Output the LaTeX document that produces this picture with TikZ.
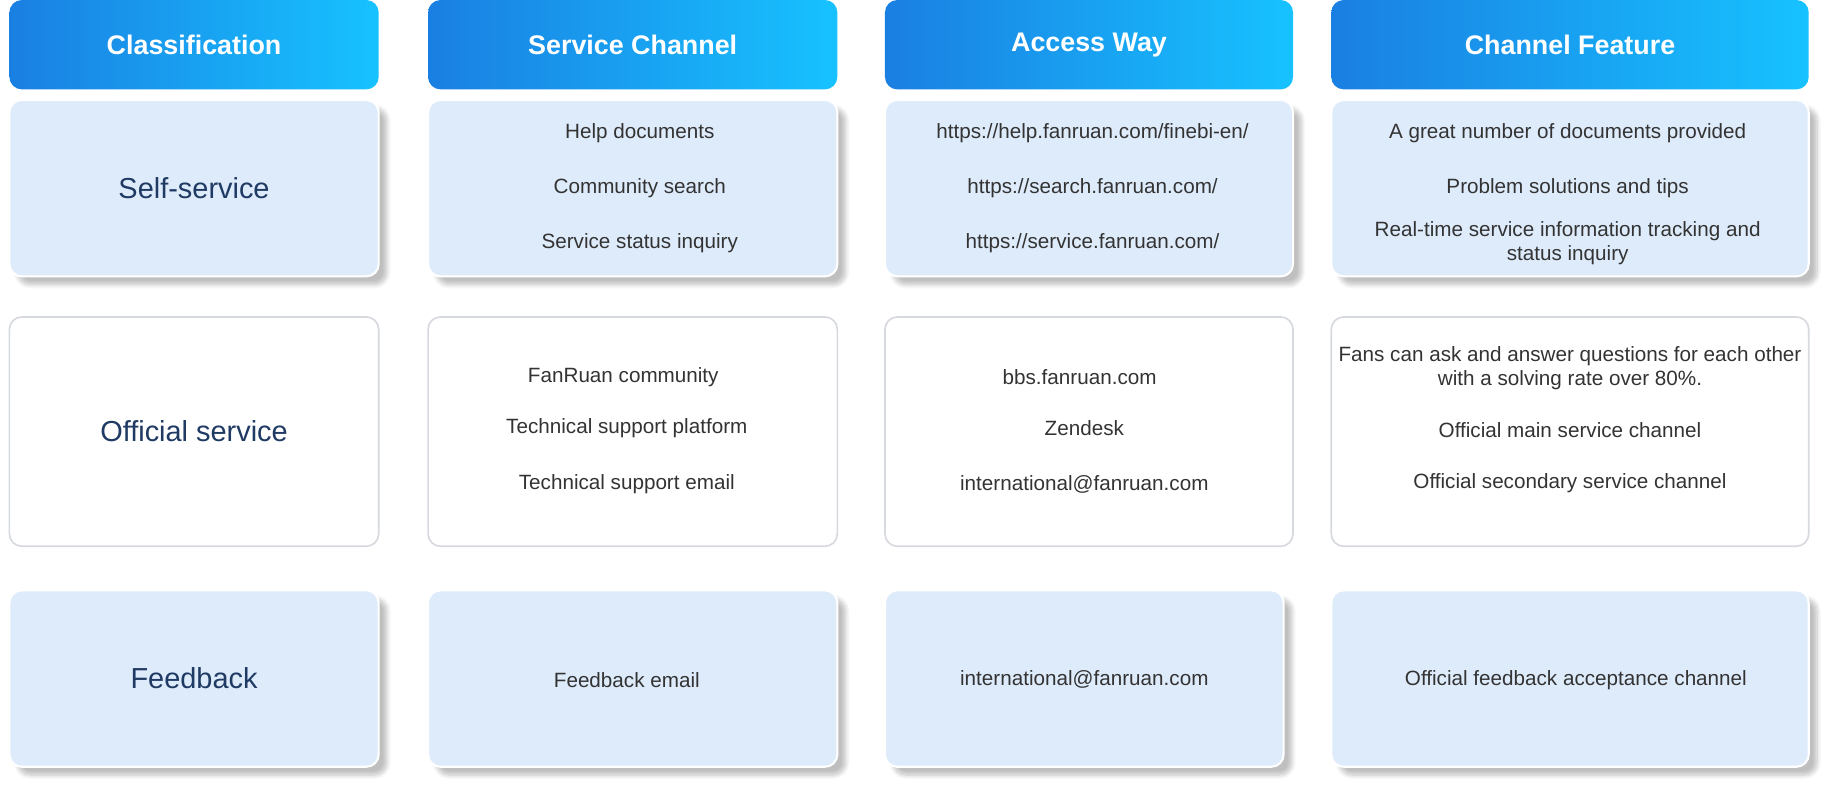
\documentclass[tikz,border=0pt]{standalone}
\usepackage{fontspec}
\setmainfont{Liberation Sans}
\usetikzlibrary{shadows.blur}
\definecolor{headL}{HTML}{1A7FE2}
\definecolor{headR}{HTML}{17C2FF}
\definecolor{cellblue}{HTML}{DEEBFB}
\definecolor{cellline}{HTML}{D6D9DE}
\definecolor{classtext}{HTML}{1F3A63}
\definecolor{bodytext}{HTML}{333333}
\tikzset{
  head/.style={rounded corners=6pt, left color=headL, right color=headR, draw=none,
    text=white, font=\bfseries\fontsize{13}{15}\selectfont},
  bluecell/.style={rounded corners=6pt, fill=cellblue, draw=white, line width=1pt,
    blur shadow={shadow xshift=4pt, shadow yshift=-4pt, shadow blur steps=8, shadow opacity=25}},
  whitecell/.style={rounded corners=6pt, fill=white, draw=cellline, line width=0.8pt},
  classlbl/.style={text=classtext, font=\fontsize{14}{16}\selectfont},
  item/.style={text=bodytext, font=\fontsize{10}{11.5}\selectfont, align=center}
}
\begin{document}
\begin{tikzpicture}[x=0.02cm, y=-0.02cm]
    \useasboundingbox (0,0) rectangle (1568,680);
    % headers
    \node[head, minimum width=314*0.02cm, minimum height=76*0.02cm] (H1) at (165,38) {Classification};
    \node[head, minimum width=348*0.02cm, minimum height=76*0.02cm] (H2) at (538,38) {Service Channel};
    \node[head, minimum width=347*0.02cm, minimum height=76*0.02cm] (H3) at (926,38) {Access Way};
    \node[head, minimum width=406*0.02cm, minimum height=76*0.02cm] (H4) at (1335,38) {Channel Feature};

    % row 1
    \node[bluecell, minimum width=314*0.02cm, minimum height=150*0.02cm] (S1) at (165,160) {};
    \node[bluecell, minimum width=348*0.02cm, minimum height=150*0.02cm] (S2) at (538,160) {};
    \node[bluecell, minimum width=347*0.02cm, minimum height=150*0.02cm] (S3) at (926,160) {};
    \node[bluecell, minimum width=406*0.02cm, minimum height=150*0.02cm] (S4) at (1335,160) {};
    \node[classlbl] (S1t) at (165,160) {Self-service};
    \node[item] (S2a) at (544,113) {Help documents};
    \node[item] (S2b) at (544,160) {Community search};
    \node[item] (S2c) at (544,207) {Service status inquiry};
    \node[item] (S3a) at (929,113) {https://help.fanruan.com/finebi-en/};
    \node[item] (S3b) at (929,160) {https://search.fanruan.com/};
    \node[item] (S3c) at (929,207) {https://service.fanruan.com/};
    \node[item] (S4a) at (1333,113) {A great number of documents provided};
    \node[item] (S4b) at (1333,160) {Problem solutions and tips};
    \node[item] (S4c) at (1333,207) {Real-time service information tracking and\\status inquiry};

    % row 2
    \node[whitecell, minimum width=314*0.02cm, minimum height=195*0.02cm] (O1) at (165,367) {};
    \node[whitecell, minimum width=348*0.02cm, minimum height=195*0.02cm] (O2) at (538,367) {};
    \node[whitecell, minimum width=347*0.02cm, minimum height=195*0.02cm] (O3) at (926,367) {};
    \node[whitecell, minimum width=406*0.02cm, minimum height=195*0.02cm] (O4) at (1335,367) {};
    \node[classlbl] (O1t) at (165,367) {Official service};
    \node[item] (O2a) at (530,321) {FanRuan community};
    \node[item] (O2b) at (533,364) {Technical support platform};
    \node[item] (O2c) at (533,412) {Technical support email};
    \node[item] (O3a) at (918,321) {bbs.fanruan.com};
    \node[item] (O3b) at (922,364) {Zendesk};
    \node[item] (O3c) at (922,412) {international@fanruan.com};
    \node[item] (O4a) at (1335,313) {Fans can ask and answer questions for each other\\with a solving rate over 80\%.};
    \node[item] (O4b) at (1335,366) {Official main service channel};
    \node[item] (O4c) at (1335,411) {Official secondary service channel};

    % row 3
    \node[bluecell, minimum width=314*0.02cm, minimum height=150*0.02cm] (F1) at (165,577) {};
    \node[bluecell, minimum width=348*0.02cm, minimum height=150*0.02cm] (F2) at (538,577) {};
    \node[bluecell, minimum width=339*0.02cm, minimum height=150*0.02cm] (F3) at (922,577) {};
    \node[bluecell, minimum width=406*0.02cm, minimum height=150*0.02cm] (F4) at (1335,577) {};
    \node[classlbl] (F1t) at (165,577) {Feedback};
    \node[item] (F2a) at (533,578) {Feedback email};
    \node[item] (F3a) at (922,578) {international@fanruan.com};
    \node[item] (F4a) at (1340,578) {Official feedback acceptance channel};
\end{tikzpicture}
\end{document}
